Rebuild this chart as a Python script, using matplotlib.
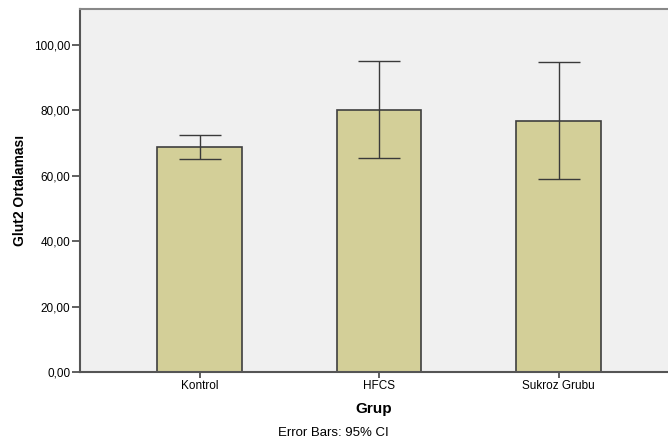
import numpy as np
import matplotlib.pyplot as plt

plt.rcParams['font.family'] = ['Liberation Sans', 'DejaVu Sans']

groups = ['Kontrol', 'HFCS', 'Sukroz Grubu']
means = [68.9, 80.1, 76.9]
ci_low = [65.2, 65.3, 58.9]
ci_high = [72.4, 95.0, 94.8]
yticks = [0, 20, 40, 60, 80, 100]
ytick_labels = ['0,00', '20,00', '40,00', '60,00', '80,00', '100,00']

x = np.arange(len(groups))
means_arr = np.array(means)
yerr = [means_arr - np.array(ci_low), np.array(ci_high) - means_arr]

fig = plt.figure(figsize=(6.68, 4.42), dpi=100)
ax = fig.add_axes([80 / 668, 70 / 442, 588 / 668, 363 / 442])
ax.set_facecolor('#F0F0F0')

ax.bar(x, means, width=0.47, color='#D3CF98', edgecolor='#3F3F3F', linewidth=1.2, zorder=2)
ax.errorbar(x, means, yerr=yerr, fmt='none', ecolor='#3A3A3A', elinewidth=1.0,
            capsize=15, capthick=1.0, zorder=3)

ax.set_xlim(-0.666, 2.61)
ax.set_ylim(0, 111)
ax.set_xticks(x)
ax.set_xticklabels(groups, fontsize=8.5)
ax.set_yticks(yticks)
ax.set_yticklabels(ytick_labels, fontsize=8.5)
ax.tick_params(axis='y', length=6, width=1.2, color='#444444', pad=1)
ax.tick_params(axis='x', length=4, width=1.2, color='#444444', pad=2)

for side in ['left', 'bottom']:
    ax.spines[side].set_color('#555555')
    ax.spines[side].set_linewidth(1.5)
ax.spines['top'].set_color('#888888')
ax.spines['top'].set_linewidth(1.5)
ax.spines['right'].set_visible(False)

ax.set_xlabel('Grup', fontsize=11, fontweight='bold', labelpad=7)
ax.set_ylabel('Glut2 Ortalaması', fontsize=10, fontweight='bold', labelpad=5)

fig.text(333 / 668, 1 - 433 / 442, 'Error Bars: 95% CI', fontsize=9.5,
         ha='center', va='center')

fig.savefig('out.png', dpi=100)
